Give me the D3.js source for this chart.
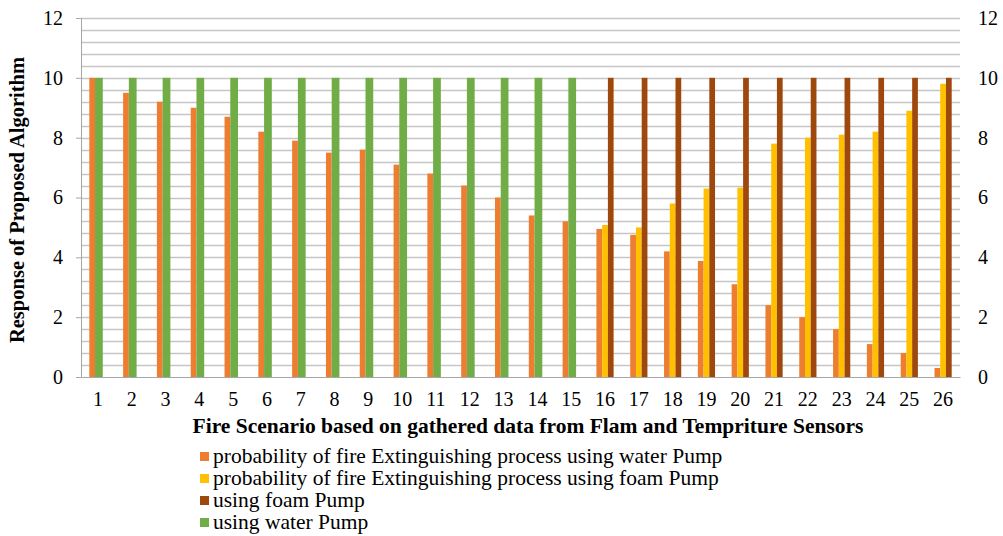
<!DOCTYPE html>
<html>
<head>
<meta charset="utf-8">
<script src="https://cdn.jsdelivr.net/npm/d3@7"></script>
<style>
  body { margin: 0; background: #fff; }
</style>
</head>
<body>
<svg id="drawing_region"></svg>
<script>
// scenarios 1..26
const scenarios = d3.range(1, 27).map(String);
// probability of fire Extinguishing process using water Pump
const waterProb = [10, 9.5, 9.2, 9.0, 8.7, 8.2, 7.9, 7.5, 7.6, 7.1, 6.8, 6.4, 6.0, 5.4, 5.2,
                   4.95, 4.75, 4.2, 3.88, 3.1, 2.4, 2.0, 1.6, 1.1, 0.8, 0.3];
// probability of fire Extinguishing process using foam Pump
const foamProb = [0, 0, 0, 0, 0, 0, 0, 0, 0, 0, 0, 0, 0, 0, 0,
                  5.08, 5.0, 5.8, 6.3, 6.33, 7.8, 8.0, 8.1, 8.2, 8.9, 9.8];
// using foam Pump
const foamPump = [0, 0, 0, 0, 0, 0, 0, 0, 0, 0, 0, 0, 0, 0, 0,
                  10, 10, 10, 10, 10, 10, 10, 10, 10, 10, 10];
// using water Pump
const waterPump = [10, 10, 10, 10, 10, 10, 10, 10, 10, 10, 10, 10, 10, 10, 10,
                   0, 0, 0, 0, 0, 0, 0, 0, 0, 0, 0];
const yTicks = [0, 2, 4, 6, 8, 10, 12];

const seriesNames = [
  'probability of fire Extinguishing process using water Pump',
  'probability of fire Extinguishing process using foam Pump',
  'using foam Pump',
  'using water Pump'
];
const colors = ['#ED7D31', '#FFC000', '#9E480E', '#70AD47'];

const config = {
  width: 1003, height: 536,
  margin: {top: 18, right: 43, bottom: 159, left: 81}
};

const svg = d3.select('#drawing_region')
  .attr('width', config.width)
  .attr('height', config.height);
const chart = svg.append('g')
  .attr('transform', `translate(${config.margin.left}, ${config.margin.top})`);
const inner_width = config.width - config.margin.left - config.margin.right;
const inner_height = config.height - config.margin.top - config.margin.bottom;

const xscale = d3.scaleBand().domain(scenarios).range([0, inner_width]);
const yscale = d3.scaleLinear().domain([0, 12]).range([inner_height, 0]);
// slots inside a scenario group
const slot = d3.scaleBand().domain([0, 1, 2])
  .range([xscale.bandwidth() / 2 - 8.6, xscale.bandwidth() / 2 + 8.6]);

// gridlines every 0.4
chart.append('g').selectAll('line')
  .data(d3.range(1, 31).map(i => i * 0.4))
  .join('line')
  .attr('x1', 0).attr('x2', inner_width)
  .attr('y1', d => Math.round(yscale(d)) + 0.5)
  .attr('y2', d => Math.round(yscale(d)) + 0.5)
  .attr('stroke', '#c6c6c6').attr('stroke-width', 1.3);

// bars
const table = scenarios.map((s, i) => ({
  s, vals: [waterProb[i], foamProb[i], foamPump[i], waterPump[i]]
}));
const groups = chart.selectAll('.grp').data(table).join('g')
  .attr('transform', d => `translate(${xscale(d.s)},0)`);
groups.selectAll('rect')
  .data(d => d.vals.map((v, k) => ({k, v})).filter(e => e.v > 0))
  .join('rect')
  .attr('x', e => e.k === 3 ? slot(1) : slot(e.k))
  .attr('width', e => e.k === 3 ? slot.bandwidth() * 1.35 : slot.bandwidth())
  .attr('y', e => yscale(e.v))
  .attr('height', e => inner_height - yscale(e.v))
  .attr('fill', e => colors[e.k]);

// axes
const yaxis = d3.axisLeft(yscale).tickValues(yTicks).tickSize(5).tickSizeOuter(0).tickPadding(13);
const yg = chart.append('g').call(yaxis);
yg.select('.domain').attr('stroke', '#a6a6a6');
yg.selectAll('.tick line').attr('stroke', '#a6a6a6');
yg.selectAll('text').attr('font-size', 20);

const yaxisR = d3.axisRight(yscale).tickValues(yTicks).tickSize(0).tickPadding(18);
const yrg = chart.append('g').attr('transform', `translate(${inner_width},0)`).call(yaxisR);
yrg.select('.domain').remove();
yrg.selectAll('text').attr('font-size', 20);

const xaxis = d3.axisBottom(xscale).tickSize(0).tickPadding(15);
const xg = chart.append('g').attr('transform', `translate(0,${inner_height})`).call(xaxis);
xg.select('.domain').attr('stroke', '#a6a6a6');
xg.selectAll('text').attr('font-size', 20);

// axis titles
svg.append('text')
  .attr('transform', `translate(24, ${config.margin.top + 182}) rotate(-90)`)
  .attr('text-anchor', 'middle')
  .attr('font-size', 20.5).attr('font-weight', 'bold')
  .text('Response of Proposed Algorithm');
svg.append('text')
  .attr('x', 528).attr('y', 433)
  .attr('text-anchor', 'middle')
  .attr('font-size', 21.5).attr('font-weight', 'bold')
  .text('Fire Scenario based on gathered data from Flam and Tempriture Sensors');

// legend
const legend = svg.append('g').attr('transform', 'translate(200, 456)');
const items = legend.selectAll('g').data(seriesNames).join('g')
  .attr('transform', (d, i) => `translate(0, ${i * 22})`);
items.append('rect').attr('x', 0).attr('y', -4).attr('width', 9).attr('height', 9)
  .attr('fill', (d, i) => colors[i]);
items.append('text').attr('x', 13).attr('y', 7)
  .attr('font-size', 21.5).text(d => d);

// Times-like font everywhere
svg.selectAll('text')
  .style('font-family', "'Liberation Serif'")
  .style('fill', '#000');
</script>
</body>
</html>
